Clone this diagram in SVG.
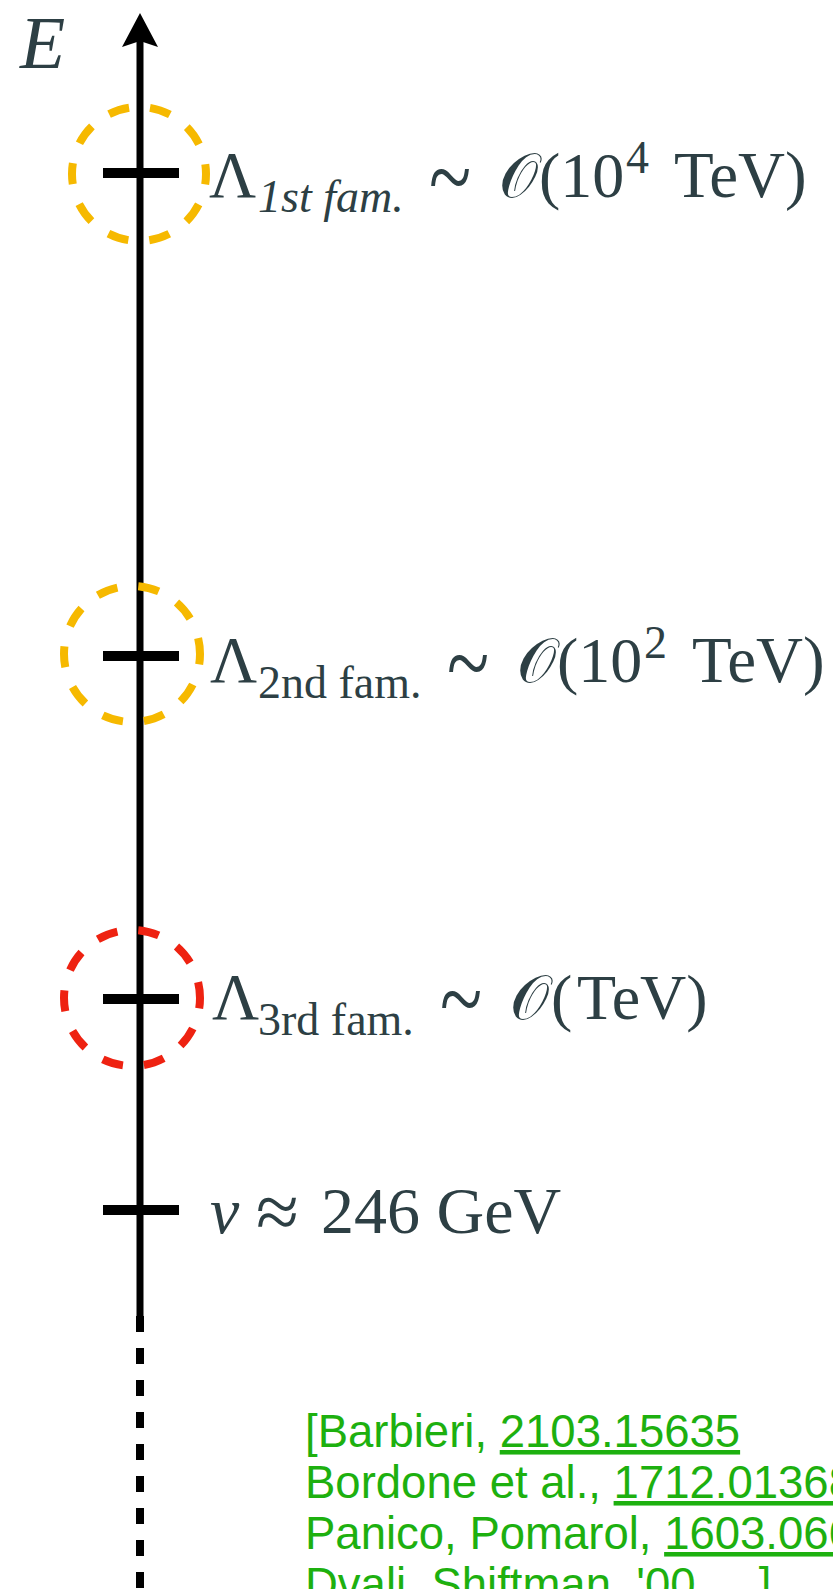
<svg xmlns="http://www.w3.org/2000/svg" width="833" height="1589" viewBox="0 0 833 1589">
<style>
.t{font-family:"Liberation Serif","Times New Roman",serif;fill:#2d3f44}
.m{font-size:64px}
.L{font-size:65px}
.s{font-size:46px}
.w{font-size:65px}
.i{font-style:italic}
.o{font-family:"DejaVu Serif",serif;font-size:62px}
.tl{font-size:78px}
.ref{font-family:"Liberation Sans",Arial,sans-serif;font-size:45.5px;fill:#1db00f}
.u{text-decoration:underline}
.tick{fill:#000}
.ring{fill:none;stroke-width:8;stroke-dasharray:21 21.1;stroke-dashoffset:10.5}
</style>
<rect width="833" height="1589" fill="#fff"/>
<g id="axis">
<line x1="140" y1="40" x2="140" y2="1324" stroke="#000" stroke-width="7"/>
<path d="M140,13 L158,47 L140,41 L122,47 Z" fill="#000"/>
<line x1="140" y1="1316" x2="140" y2="1589" stroke="#000" stroke-width="8" stroke-dasharray="16 16"/>
<text class="t i" x="20" y="68" style="font-size:74px">E</text>
</g>
<g id="scale1">
<circle class="ring" cx="139" cy="174" r="67" stroke="#f6b900"/>
<rect class="tick" x="103" y="168" width="76" height="10"/>
<text class="t m" y="197"><tspan class="L" x="209">Λ</tspan><tspan class="s i" x="258" y="212">1st fam.</tspan><tspan class="o" x="499" y="197">𝒪</tspan><tspan x="539">(10</tspan><tspan class="s" x="626" y="173">4</tspan><tspan class="w" x="674" y="197">TeV)</tspan></text>
<text class="t tl" transform="translate(432,184) scale(1,1.3)" x="-3" y="21">~</text>
</g>
<g id="scale2">
<circle class="ring" cx="132" cy="654" r="68" stroke="#f6b900"/>
<rect class="tick" x="103" y="651" width="76" height="10"/>
<text class="t m" y="682"><tspan class="L" x="210">Λ</tspan><tspan class="s" x="258" y="698">2nd fam.</tspan><tspan class="o" x="517" y="682">𝒪</tspan><tspan x="557">(10</tspan><tspan class="s" x="644" y="658">2</tspan><tspan class="w" x="692" y="682">TeV)</tspan></text>
<text class="t tl" transform="translate(450,670) scale(1,1.3)" x="-3" y="21">~</text>
</g>
<g id="scale3">
<circle class="ring" cx="132" cy="998" r="68" stroke="#ee2211"/>
<rect class="tick" x="103" y="994" width="76" height="10"/>
<text class="t m" y="1019"><tspan class="L" x="212">Λ</tspan><tspan class="s" x="258" y="1035">3rd fam.</tspan><tspan class="o" x="510" y="1019">𝒪</tspan><tspan x="551">(</tspan><tspan x="577">TeV)</tspan></text>
<text class="t tl" transform="translate(443,1006) scale(1,1.3)" x="-3" y="21">~</text>
</g>
<g id="scale4">
<rect class="tick" x="103" y="1205" width="76" height="10"/>
<text class="t" y="1233" style="font-size:66px"><tspan class="i" x="210">v</tspan><tspan x="256" y="1238" style="font-size:78px">≈</tspan><tspan x="321" y="1233">246 GeV</tspan></text>
</g>
<g id="refs">
<text class="ref" x="305" y="1447">[Barbieri, <tspan class="u">2103.15635</tspan></text>
<text class="ref" x="305" y="1498">Bordone et al., <tspan class="u">1712.01368</tspan></text>
<text class="ref" x="305" y="1549">Panico, Pomarol, <tspan class="u">1603.06609</tspan></text>
<text class="ref" x="305" y="1600">Dvali, Shiftman, '00, ...]</text>
</g>
</svg>
